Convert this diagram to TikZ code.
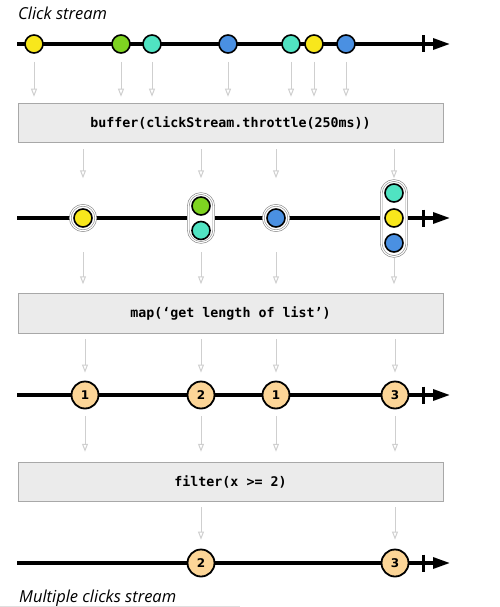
\documentclass[tikz,border=0pt]{standalone}
\usepackage{fontspec}
\setmainfont{Open Sans}
\newfontfamily\titlefont{Open Sans}
\newfontfamily\opfont{DejaVu Sans Mono}
\newfontfamily\numfont{DejaVu Sans}
\usetikzlibrary{arrows.meta,calc}
\definecolor{evyellow}{HTML}{F8E71C}
\definecolor{evgreen}{HTML}{7ED321}
\definecolor{evteal}{HTML}{50E3C2}
\definecolor{evblue}{HTML}{4A90E2}
\definecolor{evorange}{HTML}{FCD597}
\definecolor{opfill}{HTML}{EBEBEB}
\definecolor{opdraw}{HTML}{A8A8A8}
\definecolor{flowgray}{HTML}{CFCFCF}
\tikzset{
  flow/.style={draw=flowgray, line width=1pt, -{Triangle[open, length=8pt, width=6pt]}},
  timeline/.style={line width=3.2pt, -{Triangle[length=17pt, width=11pt]}},
  tickmark/.style={line width=3pt},
  opbox/.style={draw=opdraw, fill=opfill, line width=1pt, minimum width=425pt, minimum height=39.5pt, inner sep=0pt, font=\opfont\bfseries\fontsize{13.3}{15}\selectfont},
  ev/.style={circle, draw=black, line width=1.6pt, minimum size=18pt, inner sep=0pt},
  ring/.style={circle, draw=gray!90, double=white, double distance=1.1pt, line width=0.65pt, fill=white, minimum size=25.5pt, inner sep=0pt},
  capsule/.style={rectangle, rounded corners=12.7pt, draw=gray!90, double=white, double distance=1.1pt, line width=0.65pt, fill=white, minimum width=25.5pt, inner sep=0pt},
  num/.style={circle, draw=black, line width=1.8pt, fill=evorange, minimum size=27pt, inner sep=0pt, font=\numfont\bfseries\fontsize{12}{14}\selectfont},
  title/.style={anchor=base west, inner sep=0pt, font=\titlefont\itshape\fontsize{16.5}{19}\selectfont}
}
\begin{document}
\begin{tikzpicture}[x=1pt,y=-1pt]
\useasboundingbox (0,0) rectangle (500,607);

% titles
\node[title] (t1) at (18,20) {Click stream};
\node[title] (t2) at (19,602.5) {Multiple clicks stream};
\draw[draw=gray!25, line width=0.8pt] (0,606.5) -- (240,606.5);

% ---------- row 1 ----------
\draw[timeline] (17,44) -- (450,44);
\draw[tickmark] (423,35.5) -- (423,52.5);
\node[ev, fill=evyellow] (a1) at (34,44) {};
\node[ev, fill=evgreen]  (a2) at (121,44) {};
\node[ev, fill=evteal]   (a3) at (152,44) {};
\node[ev, fill=evblue]   (a4) at (228,44) {};
\node[ev, fill=evteal]   (a5) at (291,44) {};
\node[ev, fill=evyellow] (a6) at (314,44) {};
\node[ev, fill=evblue]   (a7) at (346,44) {};

% ---------- box 1 ----------
\node[opbox] (b1) at (230.5,123) {buffer(clickStream.throttle(250ms))};
\foreach \n in {a1,a2,a3,a4,a5,a6,a7}
  \draw[flow] ($(\n.south)+(0,8)$) -- ($(\n.south |- b1.north)+(0,-6)$);

% ---------- row 2 ----------
\draw[timeline] (17,218) -- (450,218);
\draw[tickmark] (423,209.5) -- (423,226.5);
\node[ring] (r1) at (83,218) {};
\node[capsule, minimum height=49pt] (r2) at (201,218) {};
\node[ring] (r3) at (276,218) {};
\node[capsule, minimum height=76pt] (r4) at (394,218.5) {};
\node[ev, fill=evyellow] (p1) at (83,218) {};
\node[ev, fill=evgreen]  (p2a) at (201,206) {};
\node[ev, fill=evteal]   (p2b) at (201,230.5) {};
\node[ev, fill=evblue]   (p3) at (276,218) {};
\node[ev, fill=evteal]   (p4a) at (394,193) {};
\node[ev, fill=evyellow] (p4b) at (394,218) {};
\node[ev, fill=evblue]   (p4c) at (394,243) {};
\foreach \n in {r1,r2,r3,r4}
  \draw[flow] ($(b1.south -| \n)+(0,6)$) -- ($(b1.south -| \n)+(0,35)$);

% ---------- box 2 ----------
\node[opbox] (b2) at (230.5,313.5) {map(‘get length of list’)};
\foreach \n in {r1,r2,r3}
  \draw[flow] ($(b2.north -| \n)+(0,-41)$) -- ($(b2.north -| \n)+(0,-9)$);
\draw[flow] ($(r4.south)+(0,1.5)$) -- ($(b2.north -| r4)+(0,-9)$);

% ---------- row 3 ----------
\draw[timeline] (17,395) -- (450,395);
\draw[tickmark] (423,386.5) -- (423,403.5);
\node[num] (n1) at (85,395) {1};
\node[num] (n2) at (201,395) {2};
\node[num] (n3) at (276,395) {1};
\node[num] (n4) at (395,395) {3};
\foreach \n in {n1,n2,n3,n4}
  \draw[flow] ($(b2.south -| \n)+(0,5)$) -- ($(\n.north)+(0,-8)$);

% ---------- box 3 ----------
\node[opbox] (b3) at (230.5,482) {filter(x >= 2)};
\foreach \n in {n1,n2,n3,n4}
  \draw[flow] ($(\n.south)+(0,7)$) -- ($(\n.south |- b3.north)+(0,-10)$);

% ---------- row 4 ----------
\draw[timeline] (17,563) -- (450,563);
\draw[tickmark] (423,554.5) -- (423,571.5);
\node[num] (m2) at (201,563) {2};
\node[num] (m3) at (395,563) {3};
\foreach \n in {m2,m3}
  \draw[flow] ($(b3.south -| \n)+(0,5)$) -- ($(\n.north)+(0,-9)$);
\end{tikzpicture}
\end{document}
